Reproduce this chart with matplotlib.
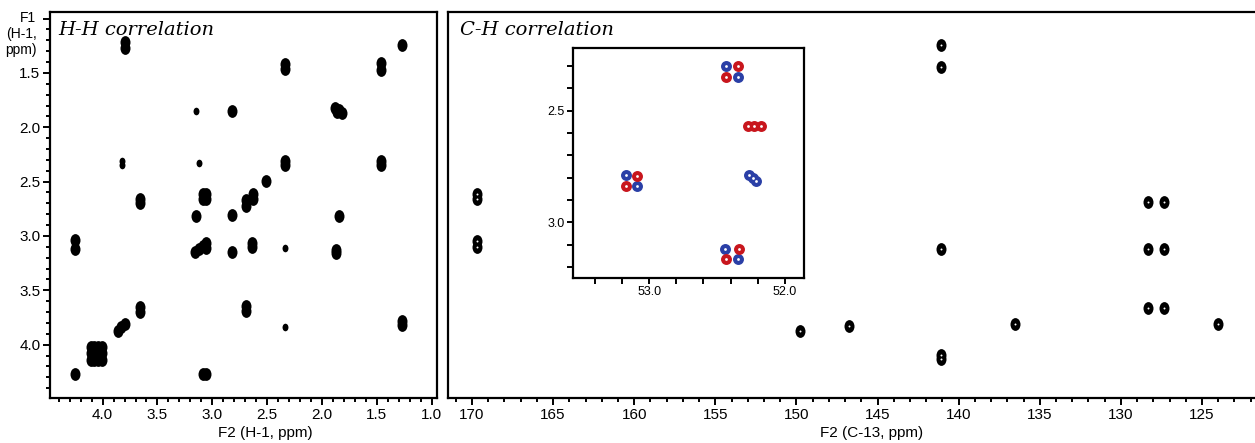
import numpy as np
import matplotlib
matplotlib.use("Agg")
import matplotlib.pyplot as plt
from matplotlib.path import Path
from matplotlib.transforms import Affine2D
from matplotlib.ticker import MultipleLocator, FixedLocator

# H-H correlation peaks (F2, F1 in ppm)
hh_f2 = [3.80, 3.80, 1.265, 2.34, 2.34, 1.457, 1.457, 2.82,
         1.88, 1.84, 1.82, 1.86, 2.34, 2.34, 1.457, 1.457, 2.507,
         3.08, 3.08, 3.06, 3.06, 2.69, 2.69, 2.63, 2.63, 3.659, 3.659,
         3.147, 2.82, 1.843, 4.25, 4.25, 3.16, 3.12, 3.08, 3.06, 3.06,
         2.82, 2.635, 2.635, 1.868, 1.868, 3.659, 3.659, 2.69, 2.69,
         1.265, 1.265, 3.863, 3.83, 3.80,
         4.11, 4.11, 4.11, 4.08, 4.08, 4.08, 4.04, 4.04, 4.04, 4.01, 4.01, 4.01,
         4.25, 3.08, 3.06]
hh_f1 = [1.22, 1.27, 1.245, 1.42, 1.46, 1.41, 1.47, 1.847,
         1.82, 1.84, 1.87, 1.86, 2.31, 2.35, 2.31, 2.35, 2.497,
         2.61, 2.66, 2.61, 2.66, 2.67, 2.72, 2.61, 2.66, 2.66, 2.70,
         2.82, 2.81, 2.82, 3.04, 3.12, 3.15, 3.12, 3.09, 3.06, 3.11,
         3.147, 3.06, 3.10, 3.13, 3.16, 3.65, 3.70, 3.64, 3.69,
         3.78, 3.82, 3.87, 3.84, 3.81,
         4.02, 4.08, 4.14, 4.02, 4.08, 4.14, 4.02, 4.08, 4.14, 4.02, 4.08, 4.14,
         4.267, 4.267, 4.267]
# weak H-H peaks
hh_weak_f2 = [3.823, 3.823, 3.117, 3.147, 2.34, 2.34]
hh_weak_f1 = [2.31, 2.35, 2.33, 1.847, 3.11, 3.837]

# C-H correlation peaks (F2 C-13, F1 H-1)
ch_f2 = [169.69, 169.69, 169.69, 169.69, 149.8, 146.78, 141.07, 141.07,
         141.07, 141.07, 141.07, 136.5, 128.35, 127.32, 128.35, 127.32,
         128.35, 127.32, 124.0]
ch_f1 = [2.61, 2.66, 3.05, 3.10, 3.877, 3.83, 1.24, 1.445,
         3.12, 4.09, 4.13, 3.806, 2.687, 2.687, 3.12, 3.12,
         3.66, 3.66, 3.806]

# inset: edited HSQC, positive (blue) and negative (red) phases
blue_f2 = [52.437, 52.345, 52.265, 52.235, 52.215, 53.173, 53.086, 52.444, 52.345]
blue_f1 = [2.299, 2.348, 2.79, 2.80, 2.815, 2.79, 2.838, 3.122, 3.165]
red_f2 = [52.345, 52.437, 52.27, 52.225, 52.18, 53.086, 53.173, 52.338, 52.437]
red_f1 = [2.30, 2.348, 2.571, 2.571, 2.571, 2.795, 2.838, 3.122, 3.165]

BLUE = "#2a3fa6"
RED = "#c8161d"
blob = Path.unit_circle().transformed(Affine2D().scale(0.78, 1.0))

plt.rcParams["font.family"] = ["Liberation Sans", "DejaVu Sans"]
fig = plt.figure(figsize=(12.55, 4.43), dpi=100)

ax1 = fig.add_axes([50 / 1255, 1 - 398 / 443, 387 / 1255, 386 / 443])
ax2 = fig.add_axes([448 / 1255, 1 - 398 / 443, 807 / 1255, 386 / 443])
ax3 = fig.add_axes([573 / 1255, 1 - 278 / 443, 231 / 1255, 230 / 443])


def style(ax, lw=1.6):
    for s in ax.spines.values():
        s.set_linewidth(lw)
    ax.tick_params(which="both", direction="out", width=1.4, colors="black")
    ax.tick_params(which="major", length=5, labelsize=11, pad=2)
    ax.tick_params(which="minor", length=3)


# left panel
ax1.scatter(hh_f2, hh_f1, s=85, marker=blob, c="black", linewidths=0, zorder=3)
ax1.scatter(hh_weak_f2, hh_weak_f1, s=30, marker=blob, c="black", linewidths=0, zorder=3)
ax1.set_xlim(4.48, 0.95)
ax1.set_ylim(4.49, 0.94)
ax1.xaxis.set_major_locator(MultipleLocator(0.5))
ax1.xaxis.set_minor_locator(MultipleLocator(0.1))
ax1.yaxis.set_major_locator(MultipleLocator(0.5))
ax1.yaxis.set_minor_locator(MultipleLocator(0.1))
ax1.xaxis.set_major_formatter(lambda v, p: f"{v:.1f}")
ax1.yaxis.set_major_formatter(lambda v, p: "" if v < 1.2 else f"{v:.1f}")
style(ax1)
ax1.set_xlabel("F2 (H-1, ppm)", fontsize=11)
ax1.xaxis.set_label_coords(0.556, -0.072)
ax1.text(-0.035, 1.003, "F1\n(H-1,\nppm)", transform=ax1.transAxes, ha="right",
         va="top", fontsize=10, linespacing=1.2)
ax1.text(0.021, 0.94, "H-H correlation", transform=ax1.transAxes, family="DejaVu Serif",
         style="italic", fontsize=14, va="baseline")

# right panel
ax2.scatter(ch_f2, ch_f1, s=85, marker=blob, c="black", linewidths=0, zorder=3)
ax2.scatter(ch_f2, ch_f1, s=2, c="white", linewidths=0, zorder=4)
ax2.set_xlim(171.48, 121.73)
ax2.set_ylim(4.49, 0.94)
ax2.xaxis.set_major_locator(MultipleLocator(5))
ax2.xaxis.set_minor_locator(MultipleLocator(1))
ax2.xaxis.set_major_formatter(lambda v, p: f"{v:.0f}")
ax2.set_yticks([])
style(ax2)
ax2.spines["right"].set_visible(False)
ax2.set_xlabel("F2 (C-13, ppm)", fontsize=11)
ax2.xaxis.set_label_coords(0.525, -0.072)
ax2.text(0.015, 0.94, "C-H correlation", transform=ax2.transAxes, family="DejaVu Serif",
         style="italic", fontsize=14, va="baseline")

# inset
for xs, ys, col in [(blue_f2, blue_f1, BLUE), (red_f2, red_f1, RED)]:
    ax3.scatter(xs, ys, s=62, marker="o", c=col, linewidths=0, zorder=3)
    ax3.scatter(xs, ys, s=4, c="white", linewidths=0, zorder=4)
ax3.set_xlim(53.56, 51.86)
ax3.set_ylim(3.25, 2.22)
ax3.xaxis.set_major_locator(FixedLocator([53.0, 52.0]))
ax3.xaxis.set_minor_locator(MultipleLocator(0.2))
ax3.yaxis.set_major_locator(FixedLocator([2.5, 3.0]))
ax3.yaxis.set_minor_locator(MultipleLocator(0.1))
ax3.xaxis.set_major_formatter(lambda v, p: f"{v:.1f}")
ax3.yaxis.set_major_formatter(lambda v, p: f"{v:.1f}")
style(ax3)
ax3.tick_params(which="both", length=4, labelsize=9)

fig.savefig("out.png", dpi=100)
